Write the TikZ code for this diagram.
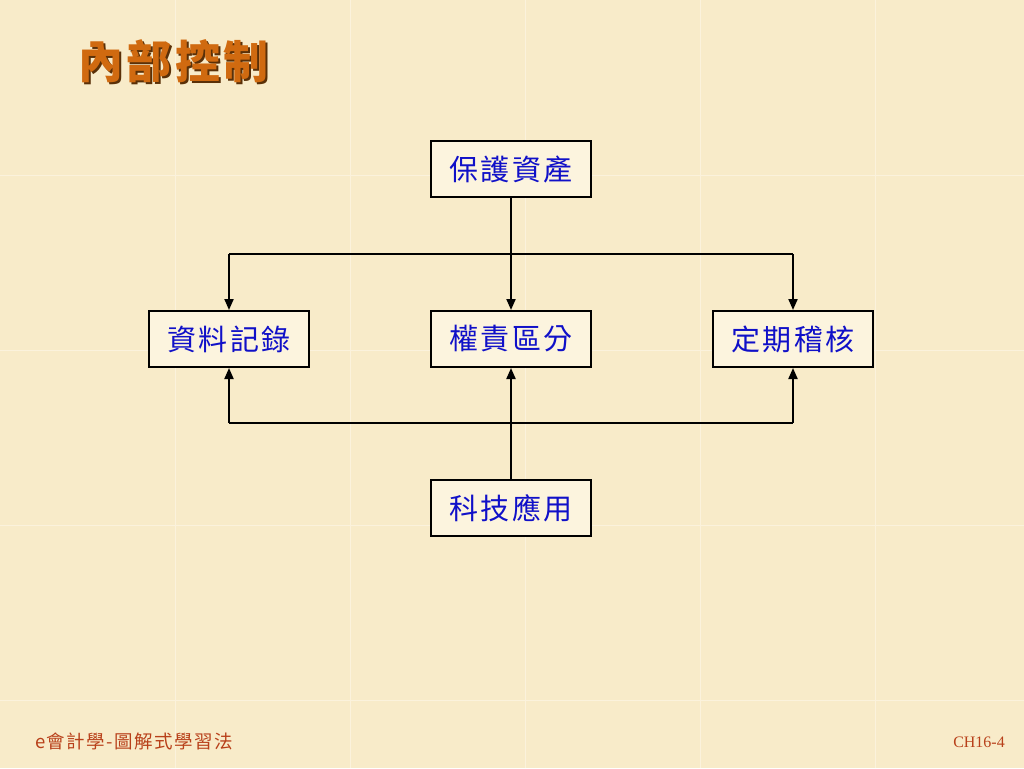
\documentclass[tikz,border=0pt]{standalone}
\usepackage{fontspec}
\newfontfamily\cjk[LetterSpace=8]{Noto Sans CJK TC}
\newfontfamily\cjkbox[LetterSpace=8]{Noto Sans CJK TC}
\newfontfamily\cjkfoot[LetterSpace=8]{Noto Sans CJK TC}
\newfontfamily\serifen{Liberation Serif}
\usetikzlibrary{arrows.meta}
\definecolor{bgc}{HTML}{F8EBC9}
\definecolor{tilec}{HTML}{FBF2DC}
\definecolor{boxfill}{HTML}{FCF4DE}
\definecolor{boxtext}{HTML}{1010C8}
\definecolor{titlec}{HTML}{D06A10}
\definecolor{titleshadow}{HTML}{5A3008}
\definecolor{footc}{HTML}{B8401A}
\begin{document}
\begin{tikzpicture}[x=1pt,y=-1pt,
  flowbox/.style={draw=black,line width=2pt,fill=boxfill,minimum width=160pt,minimum height=56pt,inner sep=0pt,font=\cjkbox\fontsize{29}{32}\selectfont,text=boxtext},
  conn/.style={draw=black,line width=2pt},
  arr/.style={conn,-{Triangle[length=11pt,width=9pt]}}]
\fill[bgc] (0,0) rectangle (1024,768);
\useasboundingbox (0,0) rectangle (1024,768);
\foreach \xx in {175,350,525,700,875} \draw[tilec,line width=1pt] (\xx,0) -- (\xx,768);
\foreach \yy in {175,350,525,700} \draw[tilec,line width=1pt] (0,\yy) -- (1024,\yy);
% title
\node[anchor=west,text=titleshadow,font=\cjk\bfseries\fontsize{45}{50}\selectfont,inner sep=0pt] (titlesh) at (80,63) {內部控制};
\node[anchor=west,text=titlec,font=\cjk\bfseries\fontsize{45}{50}\selectfont,inner sep=0pt] (title) at (78,61) {內部控制};
% boxes
\node[flowbox] (protect) at (511,169) {保護資產};
\node[flowbox] (record) at (229,339) {資料記錄};
\node[flowbox] (divide) at (511,339) {權責區分};
\node[flowbox] (audit) at (793,339) {定期稽核};
\node[flowbox] (tech) at (511,508) {科技應用};
% connectors
\coordinate (tl) at (229,254);
\coordinate (tr) at (793,254);
\coordinate (bl) at (229,423);
\coordinate (br) at (793,423);
\draw[arr] (protect.south) -- (divide.north);
\draw[conn] (tl) -- (tr);
\draw[arr] (tl) -- (record.north);
\draw[arr] (tr) -- (audit.north);
\draw[arr] (tech.north) -- (divide.south);
\draw[conn] (bl) -- (br);
\draw[arr] (bl) -- (record.south);
\draw[arr] (br) -- (audit.south);
% footer
\node[anchor=west,text=footc,font=\cjkfoot\fontsize{18.5}{20}\selectfont,inner sep=0pt] (foot) at (35,741) {e會計學-圖解式學習法};
\node[anchor=east,text=footc,font=\serifen\fontsize{16}{18}\selectfont,inner sep=0pt] (page) at (1005,742) {CH16-4};
\end{tikzpicture}
\end{document}
